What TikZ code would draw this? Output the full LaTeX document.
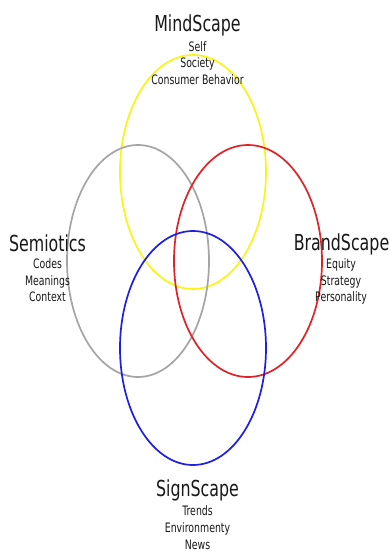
\documentclass[tikz,border=0pt]{standalone}
\usepackage{fontspec}
\setmainfont{DejaVu Sans}[FakeStretch=0.72]
\definecolor{ringyellow}{RGB}{250,245,20}
\definecolor{ringgray}{RGB}{165,165,165}
\definecolor{ringred}{RGB}{225,35,40}
\definecolor{ringblue}{RGB}{30,30,230}
\definecolor{txt}{RGB}{25,25,25}
\begin{document}
\begin{tikzpicture}[x=1pt,y=-1pt,
  ring/.style={line width=1.7pt},
  ttl/.style={anchor=base,inner sep=0pt,text=txt,font=\fontsize{22}{24}\selectfont},
  itm/.style={anchor=base,inner sep=0pt,text=txt,font=\fontsize{13}{15}\selectfont}]
\useasboundingbox[fill=white] (0,0) rectangle (390,552);
\draw[ring,ringyellow] (193,172) ellipse [x radius=73pt, y radius=117pt];
\draw[ring,ringgray] (138,261) ellipse [x radius=71pt, y radius=116pt];
\draw[ring,ringred] (248,261) ellipse [x radius=74pt, y radius=116pt];
\draw[ring,ringblue] (193,348) ellipse [x radius=73pt, y radius=117pt];
% MindScape
\node[ttl] (mind) at (197.5,31.5) {MindScape};
\node[itm] (self) at (197.5,51) {Self};
\node[itm] (soc) at (197.5,67.5) {Society};
\node[itm] (cons) at (197.5,84) {Consumer Behavior};
% Semiotics
\node[ttl] (semi) at (47.5,251) {Semiotics};
\node[itm] (codes) at (47.5,268.5) {Codes};
\node[itm] (mean) at (47.5,285) {Meanings};
\node[itm] (ctx) at (47.5,301.5) {Context};
% BrandScape
\node[ttl] (brand) at (341.5,250) {BrandScape};
\node[itm] (eq) at (341,268.5) {Equity};
\node[itm] (strat) at (341,285) {Strategy};
\node[itm] (pers) at (341,301.5) {Personality};
% SignScape
\node[ttl] (sign) at (197.5,496) {SignScape};
\node[itm] (trends) at (197.5,515.5) {Trends};
\node[itm] (env) at (197.5,532.5) {Environmenty};
\node[itm] (news) at (197.5,549.5) {News};
\end{tikzpicture}
\end{document}
